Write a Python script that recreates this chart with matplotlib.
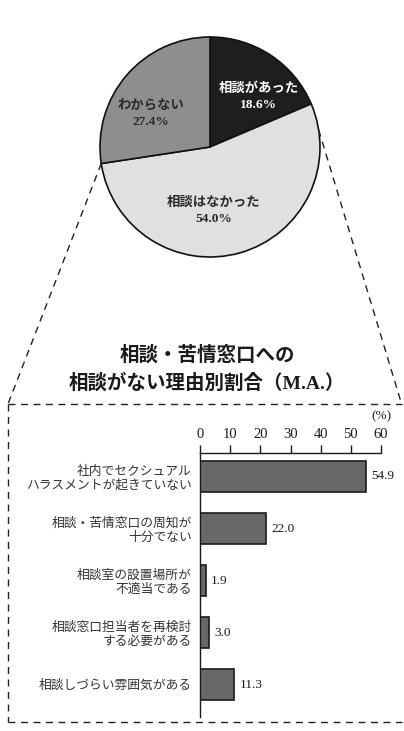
import numpy as np
import matplotlib.pyplot as plt

plt.rcParams['font.family'] = ['Liberation Serif', 'Noto Sans CJK JP']

# pie: consultations received
pie_labels = ['相談があった', '相談はなかった', 'わからない']
pie_values = [18.6, 54.0, 27.4]
pie_colors = ['#1f1d1e', '#e0e0e2', '#8e8e90']
pie_text_colors = ['white', '#2a2a2a', '#2a2a2a']

# bars: reasons for no consultation (M.A.)
reasons = ['社内でセクシュアル\nハラスメントが起きていない',
           '相談・苦情窓口の周知が\n十分でない',
           '相談室の設置場所が\n不適当である',
           '相談窓口担当者を再検討\nする必要がある',
           '相談しづらい雰囲気がある']
shares = [54.9, 22.0, 1.9, 3.0, 11.3]
ticks = [0, 10, 20, 30, 40, 50, 60]

W, H = 404, 731
fig = plt.figure(figsize=(W / 100, H / 100), dpi=100)

def px(x, y, w, h):
    return [x / W, 1 - (y + h) / H, w / W, h / H]

# pie
cx, cy, r = 210, 147, 110
pad = 3
axp = fig.add_axes(px(cx - r - pad, cy - r - pad, 2 * (r + pad), 2 * (r + pad)))
wedges, _ = axp.pie(pie_values, colors=pie_colors, startangle=90, counterclock=False,
                    radius=1, wedgeprops=dict(edgecolor='#111111', linewidth=1.2))
lim = (r + pad) / r
axp.set_xlim(-lim, lim)
axp.set_ylim(-lim, lim)
axp.set_aspect('equal')
axp.axis('off')

label_pos = [(0.44, 0.46), (0.03, -0.58), (-0.54, 0.30)]
for lab, v, (lx, ly), c in zip(pie_labels, pie_values, label_pos, pie_text_colors):
    axp.text(lx, ly, f'{lab}\n{v:.1f}%', ha='center', va='center', color=c,
             fontsize=9.6, fontweight='bold', linespacing=1.5)

# overlay for connector lines and dashed frame
ov = fig.add_axes([0, 0, 1, 1])
ov.set_xlim(0, W)
ov.set_ylim(H, 0)
ov.axis('off')
ov.patch.set_alpha(0)

dash = dict(color='#222222', lw=1.0, linestyle=(0, (5, 4)))
cum = np.cumsum(pie_values) / 100
a_left = np.deg2rad(90 - cum[1] * 360)
a_right = np.deg2rad(9)
lx0, ly0 = cx + r * np.cos(a_left), cy - r * np.sin(a_left)
rx0, ry0 = cx + r * np.cos(a_right), cy - r * np.sin(a_right)
top, bot, left, right = 404, 722, 8, 402
ov.plot([lx0, left], [ly0, top], **dash)
ov.plot([rx0, right - 1], [ry0, top - 2], **dash)
ov.plot([left, right], [top, top], **dash)
ov.plot([left, left], [top, bot], **dash)
ov.plot([left, right], [bot, bot], **dash)

# title
ov.text(207, 369, '相談・苦情窓口への\n相談がない理由別割合（M.A.）', ha='center', va='center',
        fontsize=14, fontweight='bold', color='#1a1a1a', linespacing=1.5)

# bar chart
axb = fig.add_axes(px(200, 453, 181, 264))
y = np.arange(len(reasons))
axb.barh(y, shares, height=0.6, color='#69696b', edgecolor='#1a1a1a', linewidth=1.2)
axb.set_xlim(0, 60)
axb.set_ylim(len(reasons) - 0.38, -0.45)
axb.xaxis.tick_top()
axb.set_xticks(ticks)
axb.tick_params(axis='x', direction='out', length=6, width=1.0, pad=3,
                labelsize=10.5, colors='#1a1a1a')
axb.set_yticks(y)
axb.set_yticklabels(reasons, fontsize=9.2, color='#333333', linespacing=1.15)
axb.tick_params(axis='y', length=0, pad=6)
for s in ['right', 'bottom']:
    axb.spines[s].set_visible(False)
for s in ['left', 'top']:
    axb.spines[s].set_linewidth(1.0)
    axb.spines[s].set_color('#1a1a1a')
for yi, v in zip(y, shares):
    axb.text(v + 1.8, yi, f'{v:.1f}', ha='left', va='center', fontsize=9.5, color='#1a1a1a')
axb.text(1.0, 1.115, '(%)', transform=axb.transAxes, ha='center', va='bottom',
         fontsize=9.5, color='#1a1a1a')

fig.savefig('out.png', dpi=100)
